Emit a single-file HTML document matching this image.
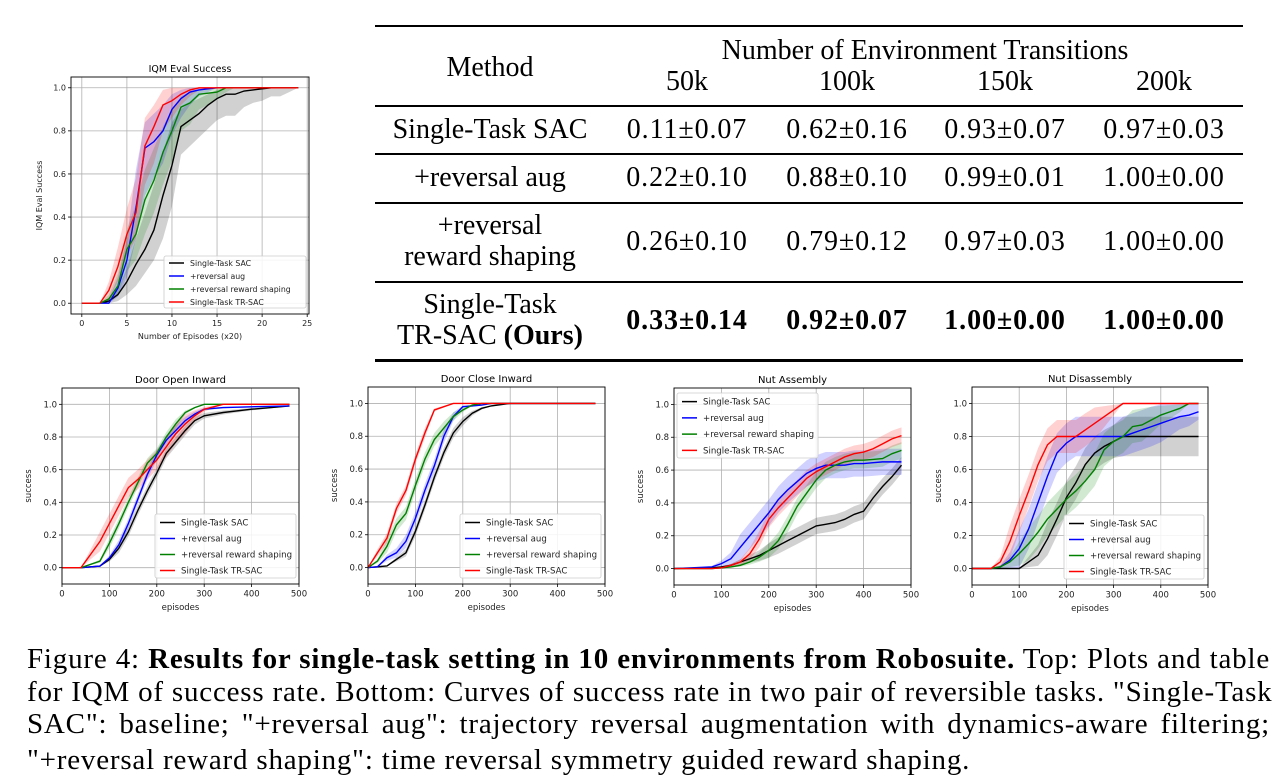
<!DOCTYPE html>
<html><head><meta charset="utf-8">
<style>
html,body{margin:0;padding:0;background:#fff;}
body{width:1278px;height:780px;position:relative;overflow:hidden;font-family:"Liberation Serif",serif;color:#000;}
.t{position:absolute;font-size:28px;white-space:nowrap;transform:translateX(-50%);line-height:1;}
.n{letter-spacing:0.9px;}
.hl{position:absolute;left:375px;width:868px;background:#000;}
.cap{position:absolute;left:27px;width:1243px;font-size:29px;letter-spacing:0.8px;line-height:1;text-align:justify;text-align-last:justify;white-space:nowrap;}
.cap.last{text-align-last:left;}
</style></head>
<body>
<svg id="plots" width="1278" height="780" style="position:absolute;left:0;top:0" xmlns="http://www.w3.org/2000/svg"></svg>

<div>
<div class="hl" style="top:25px;height:2px"></div>
<div class="hl" style="top:105px;height:1.5px"></div>
<div class="hl" style="top:153px;height:1.5px"></div>
<div class="hl" style="top:202px;height:1.5px"></div>
<div class="hl" style="top:281px;height:1.5px"></div>
<div class="hl" style="top:359px;height:2.5px"></div>
<div class="t" style="left:490px;top:54px">Method</div>
<div class="t" style="left:925px;top:37px">Number of Environment Transitions</div>
<div class="t" style="left:687px;top:68px">50k</div>
<div class="t" style="left:847px;top:68px">100k</div>
<div class="t" style="left:1005px;top:68px">150k</div>
<div class="t" style="left:1164px;top:68px">200k</div>

<div class="t" style="left:490px;top:116px">Single-Task SAC</div>
<div class="t n" style="left:687px;top:116px">0.11±0.07</div>
<div class="t n" style="left:847px;top:116px">0.62±0.16</div>
<div class="t n" style="left:1005px;top:116px">0.93±0.07</div>
<div class="t n" style="left:1164px;top:116px">0.97±0.03</div>

<div class="t" style="left:490px;top:164px">+reversal aug</div>
<div class="t n" style="left:687px;top:164px">0.22±0.10</div>
<div class="t n" style="left:847px;top:164px">0.88±0.10</div>
<div class="t n" style="left:1005px;top:164px">0.99±0.01</div>
<div class="t n" style="left:1164px;top:164px">1.00±0.00</div>

<div class="t" style="left:490px;top:212px">+reversal</div>
<div class="t" style="left:490px;top:243px">reward shaping</div>
<div class="t n" style="left:687px;top:228px">0.26±0.10</div>
<div class="t n" style="left:847px;top:228px">0.79±0.12</div>
<div class="t n" style="left:1005px;top:228px">0.97±0.03</div>
<div class="t n" style="left:1164px;top:228px">1.00±0.00</div>

<div class="t" style="left:490px;top:291px">Single-Task</div>
<div class="t" style="left:490px;top:322px">TR-SAC <b>(Ours)</b></div>
<div class="t n" style="left:687px;top:307px;font-weight:bold">0.33±0.14</div>
<div class="t n" style="left:847px;top:307px;font-weight:bold">0.92±0.07</div>
<div class="t n" style="left:1005px;top:307px;font-weight:bold">1.00±0.00</div>
<div class="t n" style="left:1164px;top:307px;font-weight:bold">1.00±0.00</div>
</div>

<div>
<div class="cap" style="top:645px">Figure 4: <b>Results for single-task setting in 10 environments from Robosuite.</b> Top: Plots and table</div>
<div class="cap" style="top:678px">for IQM of success rate. Bottom: Curves of success rate in two pair of reversible tasks. "Single-Task</div>
<div class="cap" style="top:710px">SAC": baseline; "+reversal aug": trajectory reversal augmentation with dynamics-aware filtering;</div>
<div class="cap last" style="top:746px">"+reversal reward shaping": time reversal symmetry guided reward shaping.</div>
</div>

<script>
// ---------- data ----------
const seriesNames = ["Single-Task SAC","+reversal aug","+reversal reward shaping","Single-Task TR-SAC"];
// IQM plot
const iqmX = [0,1,2,3,4,5,6,7,8,9,10,11,12,13,14,15,16,17,18,19,20,21,22,23,24];
const iqmSac = [0,0,0,0.01,0.04,0.1,0.18,0.25,0.34,0.5,0.64,0.82,0.85,0.88,0.92,0.95,0.97,0.97,0.985,0.99,0.995,1,1,1,1];
const iqmSacLo = [0,0,0,0,0.01,0.04,0.08,0.14,0.2,0.3,0.45,0.69,0.73,0.77,0.81,0.85,0.87,0.87,0.91,0.93,0.94,0.96,0.96,0.98,1];
const iqmSacHi = [0,0,0,0.02,0.07,0.16,0.3,0.42,0.55,0.7,0.84,0.9,0.93,0.95,0.97,0.99,1,1,1,1,1,1,1,1,1];
const iqmAug = [0,0,0,0,0.07,0.2,0.44,0.72,0.75,0.8,0.9,0.95,0.98,0.99,0.995,1,1,1,1,1,1,1,1,1,1];
const iqmAugLo = [0,0,0,0,0.03,0.12,0.3,0.5,0.58,0.65,0.78,0.86,0.92,0.96,0.98,1,1,1,1,1,1,1,1,1,1];
const iqmAugHi = [0,0,0,0.02,0.12,0.3,0.62,0.84,0.88,0.92,0.97,0.99,1,1,1,1,1,1,1,1,1,1,1,1,1];
const iqmShp = [0,0,0,0.02,0.08,0.25,0.32,0.48,0.57,0.7,0.8,0.91,0.93,0.97,0.975,0.98,1,1,1,1,1,1,1,1,1];
const iqmShpLo = [0,0,0,0,0.04,0.15,0.2,0.32,0.42,0.55,0.66,0.8,0.83,0.9,0.92,0.95,0.98,1,1,1,1,1,1,1,1];
const iqmShpHi = [0,0,0,0.04,0.14,0.34,0.46,0.62,0.72,0.82,0.9,0.96,0.98,0.99,1,1,1,1,1,1,1,1,1,1,1];
const iqmTr = [0,0,0,0.06,0.17,0.32,0.42,0.73,0.82,0.92,0.94,0.97,0.99,1,1,1,1,1,1,1,1,1,1,1,1];
const iqmTrLo = [0,0,0,0.02,0.1,0.22,0.3,0.55,0.65,0.8,0.86,0.92,0.96,0.99,1,1,1,1,1,1,1,1,1,1,1];
const iqmTrHi = [0,0,0,0.1,0.26,0.44,0.58,0.86,0.92,0.99,1,1,1,1,1,1,1,1,1,1,1,1,1,1,1];
// Door Open Inward
const doX = [0,40,80,100,120,140,160,180,200,220,240,260,280,300,340,400,480];
const doSac = [0,0,0.01,0.05,0.12,0.22,0.35,0.47,0.58,0.7,0.77,0.84,0.9,0.93,0.95,0.97,0.99];
const doAug = [0,0,0.01,0.06,0.14,0.27,0.42,0.57,0.69,0.78,0.84,0.9,0.94,0.97,0.98,0.985,0.99];
const doShp = [0,0,0.04,0.15,0.27,0.4,0.52,0.64,0.7,0.8,0.88,0.95,0.98,1,1,1,1];
const doTr = [0,0,0.16,0.27,0.38,0.49,0.54,0.6,0.66,0.74,0.82,0.88,0.93,0.97,1,1,1];
const doSpread = [0.03,0.03,0.03,0.06];
// Door Close Inward
const dcX = [0,20,40,60,80,100,120,140,160,180,200,220,240,260,300,480];
const dcSac = [0,0.005,0.01,0.05,0.09,0.22,0.38,0.55,0.7,0.82,0.89,0.94,0.97,0.985,1,1];
const dcAug = [0,0.005,0.06,0.09,0.16,0.3,0.47,0.62,0.8,0.92,0.98,0.985,0.99,1,1,1];
const dcShp = [0,0.04,0.13,0.26,0.33,0.5,0.66,0.78,0.85,0.92,0.96,0.99,1,1,1,1];
const dcTr = [0,0.09,0.18,0.36,0.47,0.66,0.82,0.96,0.98,1,1,1,1,1,1,1];
const dcSpread = [0.03,0.04,0.04,0.03];
// Nut Assembly
const naX = [0,80,100,120,140,160,180,200,220,240,260,280,300,320,340,360,380,400,420,440,460,480];
const naSac = [0,0.005,0.01,0.02,0.04,0.06,0.08,0.11,0.14,0.17,0.2,0.23,0.26,0.27,0.28,0.3,0.33,0.35,0.43,0.5,0.56,0.63];
const naAug = [0,0.01,0.03,0.06,0.13,0.2,0.27,0.34,0.42,0.48,0.53,0.58,0.61,0.63,0.63,0.63,0.64,0.64,0.645,0.65,0.65,0.65];
const naShp = [0,0,0.005,0.01,0.02,0.04,0.07,0.11,0.17,0.27,0.38,0.46,0.54,0.6,0.63,0.65,0.66,0.66,0.665,0.67,0.7,0.72];
const naTr = [0,0,0.005,0.02,0.04,0.09,0.18,0.3,0.37,0.43,0.49,0.55,0.59,0.62,0.65,0.68,0.7,0.71,0.73,0.76,0.79,0.81];
const naSpread = [0.05,0.08,0.05,0.05];
// Nut Disassembly
const ndX = [0,40,60,80,100,120,140,160,180,200,220,240,260,280,300,320,340,360,380,400,420,440,460,480];
const ndSac = [0,0,0,0,0,0.04,0.08,0.18,0.3,0.43,0.52,0.63,0.7,0.74,0.77,0.8,0.8,0.8,0.8,0.8,0.8,0.8,0.8,0.8];
const ndAug = [0,0,0.01,0.05,0.12,0.24,0.4,0.56,0.7,0.76,0.8,0.8,0.8,0.8,0.8,0.8,0.82,0.84,0.86,0.88,0.9,0.92,0.93,0.95];
const ndShp = [0,0,0.01,0.04,0.09,0.15,0.22,0.3,0.36,0.42,0.47,0.53,0.6,0.72,0.77,0.8,0.86,0.87,0.9,0.93,0.95,0.97,1,1];
const ndTr = [0,0,0.04,0.16,0.32,0.47,0.63,0.75,0.8,0.8,0.8,0.84,0.88,0.92,0.96,1,1,1,1,1,1,1,1,1];
const ndSpread = [0.12,0.12,0.1,0.1];

const colors = ["#000000","#0000ff","#008000","#ff0000"];
const yTicksIqm = ["0.0","0.2","0.4","0.6","0.8","1.0"];
const xTicksIqm = ["0","5","10","15","20","25"];
const yTicksB = ["0.0","0.2","0.4","0.6","0.8","1.0"];
const xTicksB = ["0","100","200","300","400","500"];

// ---------- drawing ----------
const svg = document.getElementById('plots');
const NS = "http://www.w3.org/2000/svg";
function mk(tag, attrs, parent){const e=document.createElementNS(NS,tag);for(const k in attrs)e.setAttribute(k,attrs[k]);(parent||svg).appendChild(e);return e;}
function clamp(v){return Math.max(0,Math.min(1,v));}
function bw(v,sp){return sp*Math.min(1,v*8,(1-v)*8);}

function plot(cfg){
  const g = mk('g',{});
  
  
  const [x0,y0,x1,y1]=cfg.box;
  const sx=v=>x0+(v-cfg.xmin)/(cfg.xmax-cfg.xmin)*(x1-x0);
  const sy=v=>y1-(v-cfg.ymin)/(cfg.ymax-cfg.ymin)*(y1-y0);
  const fs=cfg.fs;
  cfg.yt.forEach(t=>{const y=sy(parseFloat(t));
    mk('line',{x1:x0,x2:x1,y1:y,y2:y,stroke:'#b0b0b0','stroke-width':0.8},g);
    mk('line',{x1:x0-3,x2:x0,y1:y,y2:y,stroke:'#000','stroke-width':0.8},g);
    const tx=mk('text',{x:x0-5,y:y+fs*0.35,'font-size':fs,'text-anchor':'end','font-family':'DejaVu Sans, sans-serif',fill:'#222'},g);tx.textContent=t;
  });
  cfg.xt.forEach(t=>{const x=sx(parseFloat(t));
    mk('line',{x1:x,x2:x,y1:y0,y2:y1,stroke:'#b0b0b0','stroke-width':0.8},g);
    mk('line',{x1:x,x2:x,y1:y1,y2:y1+3,stroke:'#000','stroke-width':0.8},g);
    const tx=mk('text',{x:x,y:y1+4+fs,'font-size':fs,'text-anchor':'middle','font-family':'DejaVu Sans, sans-serif',fill:'#222'},g);tx.textContent=t;
  });
  cfg.series.forEach((s,i)=>{
    const lo=s.lo||s.y.map(v=>clamp(v-bw(v,s.sp))), hi=s.hi||s.y.map(v=>clamp(v+bw(v,s.sp)));
    let d='M'+cfg.x.map((xv,j)=>sx(xv)+','+sy(hi[j])).join(' L');
    d+=' L'+cfg.x.map((xv,j)=>sx(xv)+','+sy(lo[j])).reverse().join(' L')+' Z';
    const p=mk('path',{d:d,fill:colors[i],'fill-opacity':0.18,stroke:'none'},g);
    
    
  });
  cfg.series.forEach((s,i)=>{
    const pts=cfg.x.map((xv,j)=>sx(xv)+','+sy(s.y[j])).join(' ');
    const l=mk('polyline',{points:pts,fill:'none',stroke:colors[i],'stroke-width':1.4},g);
    
    
  });
  mk('rect',{x:x0,y:y0,width:x1-x0,height:y1-y0,fill:'none',stroke:'#000','stroke-width':0.9},g);
  const tt=mk('text',{x:(x0+x1)/2,y:y0-5,'font-size':fs+1.5,'text-anchor':'middle','font-family':'DejaVu Sans, sans-serif'},g);tt.textContent=cfg.title;
  const xl=mk('text',{x:(x0+x1)/2,y:y1+2*fs+9,'font-size':fs,'text-anchor':'middle','font-family':'DejaVu Sans, sans-serif',fill:'#222'},g);xl.textContent=cfg.xlabel;
  const yx=x0-cfg.ylOff, yy=(y0+y1)/2;
  const yl=mk('text',{x:yx,y:yy,'font-size':fs,'text-anchor':'middle','font-family':'DejaVu Sans, sans-serif',fill:'#222',transform:`rotate(-90 ${yx} ${yy})`},g);yl.textContent=cfg.ylabel;
  const [lx,ly,lw,lh]=cfg.legend;
  const lg=mk('g',{},g);
  
  
  mk('rect',{x:lx,y:ly,width:lw,height:lh,rx:2,fill:'#fff','fill-opacity':0.85,stroke:'#ccc','stroke-width':0.8},lg);
  const rh=lh/4;
  seriesNames.forEach((n,i)=>{const cy=ly+rh*(i+0.5)+0.5;
    mk('line',{x1:lx+5,x2:lx+20,y1:cy,y2:cy,stroke:colors[i],'stroke-width':1.5},lg);
    const t=mk('text',{x:lx+26,y:cy+cfg.lfs*0.36,'font-size':cfg.lfs,'font-family':'DejaVu Sans, sans-serif',fill:'#222'},lg);t.textContent=n;
  });
}

plot({name:'iqm-eval-success-chart',box:[71,77,309,314],xmin:-1.2,xmax:25.2,ymin:-0.05,ymax:1.05,x:iqmX,
  series:[{y:iqmSac,lo:iqmSacLo,hi:iqmSacHi},{y:iqmAug,lo:iqmAugLo,hi:iqmAugHi},{y:iqmShp,lo:iqmShpLo,hi:iqmShpHi},{y:iqmTr,lo:iqmTrLo,hi:iqmTrHi}],
  yt:yTicksIqm,xt:xTicksIqm,title:'IQM Eval Success',xlabel:'Number of Episodes (x20)',ylabel:'IQM Eval Success',fs:8,ylOff:29,legend:[164,256,142,52],lfs:7.8});
const bottom=[
 {name:'door-open-inward-chart',box:[62,388,299,584],x:doX,ys:[doSac,doAug,doShp,doTr],sp:doSpread,title:'Door Open Inward',legend:[155,514,141,64]},
 {name:'door-close-inward-chart',box:[368,387,605,584],x:dcX,ys:[dcSac,dcAug,dcShp,dcTr],sp:dcSpread,title:'Door Close Inward',legend:[460,514,141,64]},
 {name:'nut-assembly-chart',box:[674,388,911,585],x:naX,ys:[naSac,naAug,naShp,naTr],sp:naSpread,title:'Nut Assembly',legend:[677,393,141,65]},
 {name:'nut-disassembly-chart',box:[972,387,1208,585],x:ndX,ys:[ndSac,ndAug,ndShp,ndTr],sp:ndSpread,title:'Nut Disassembly',legend:[1064,515,140,64]}
];
bottom.forEach(b=>{
  const series=b.ys.map((y,i)=>({y:y,sp:b.sp[i]}));
  if(b.name==='nut-disassembly-chart'){
    series[0].lo=ndSac.map(v=>v>=0.8?0.68:clamp(v-bw(v,0.1)));
    series[0].hi=ndSac.map(v=>v>=0.8?0.92:clamp(v+bw(v,0.1)));
  }
  plot({name:b.name,box:b.box,xmin:0,xmax:500,ymin:-0.1,ymax:1.1,x:b.x,series:series,
    yt:yTicksB,xt:xTicksB,title:b.title,xlabel:'episodes',ylabel:'success',fs:8.5,ylOff:31,legend:b.legend,lfs:8.6});
});
</script>
</body></html>
